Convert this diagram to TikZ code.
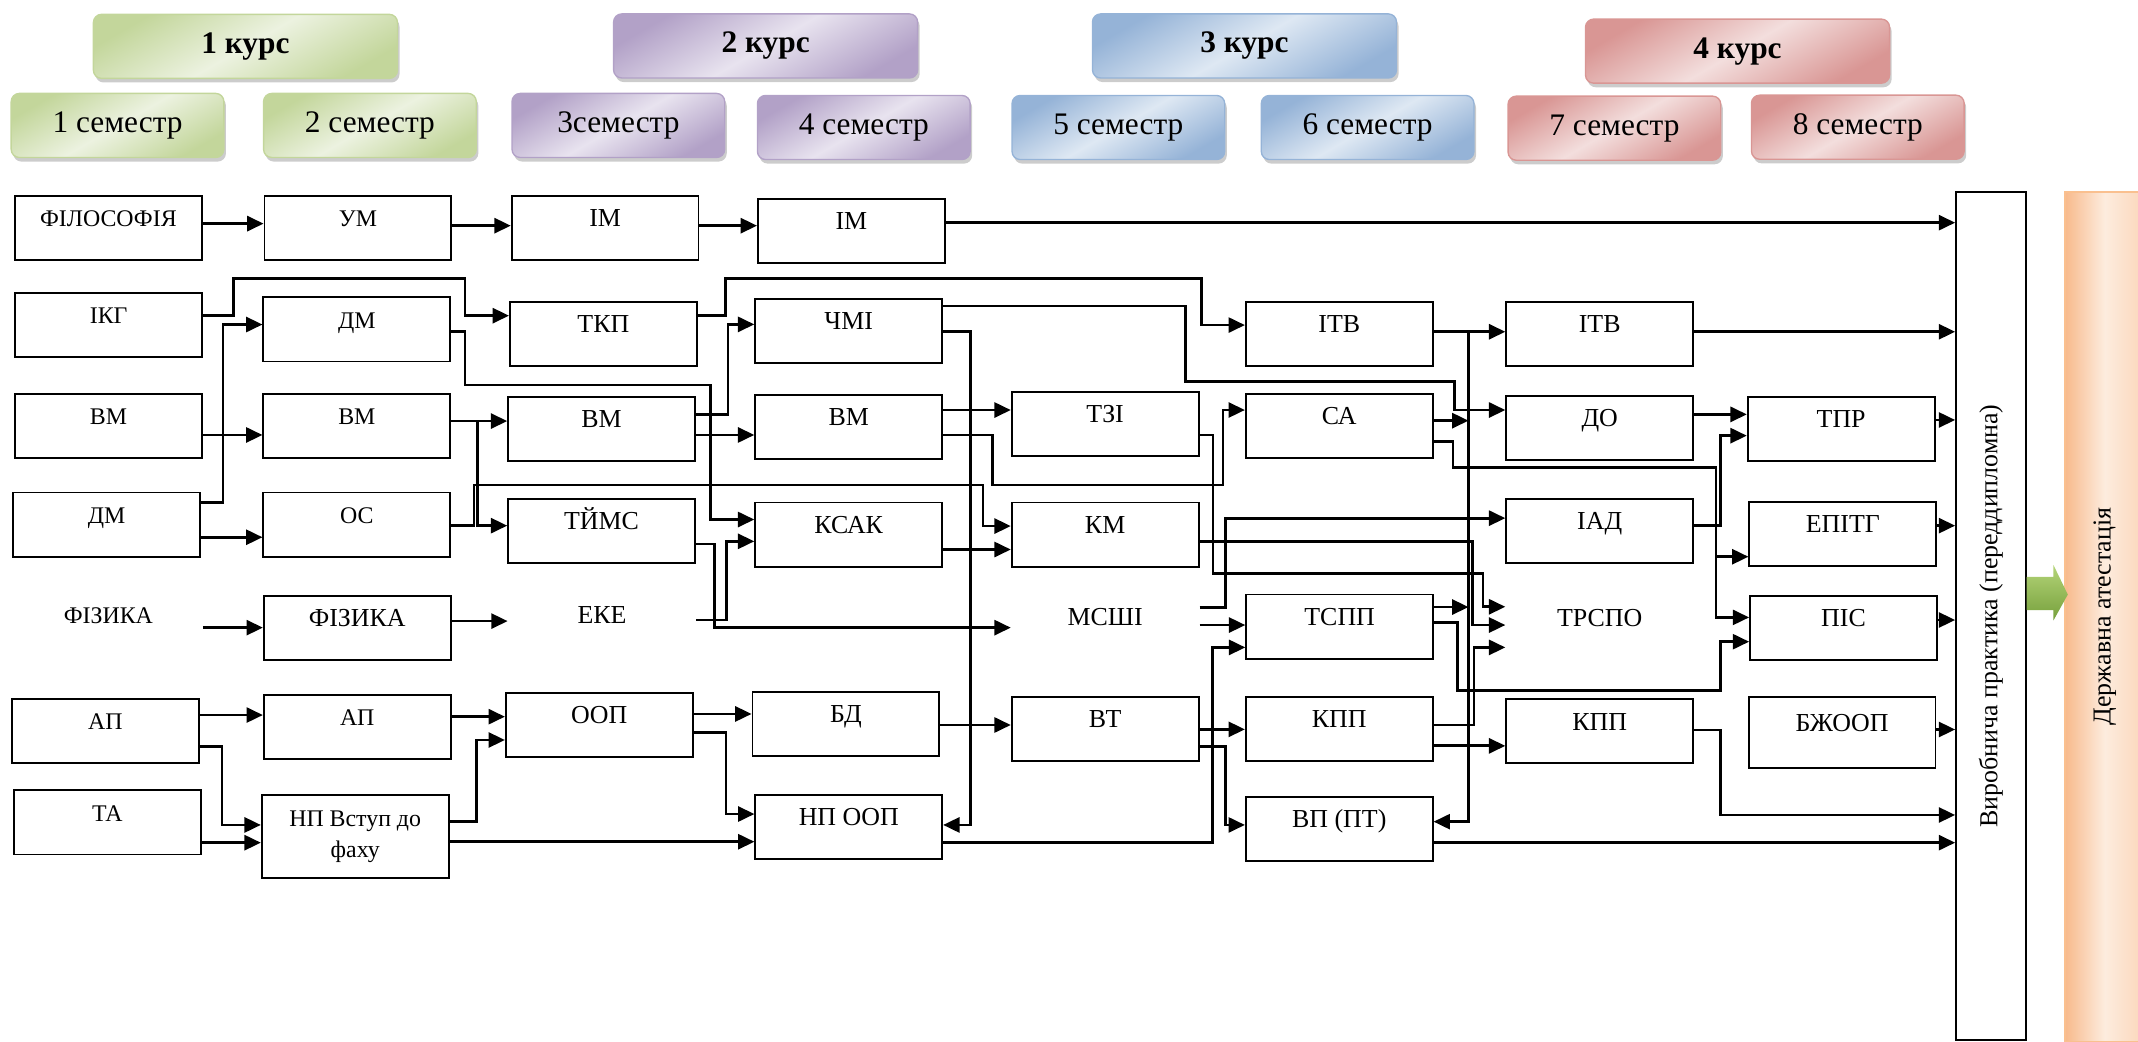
\documentclass[tikz,border=0pt]{standalone}
\usepackage{fontspec}
\setmainfont{Liberation Serif}
\usepackage{graphicx}
\usetikzlibrary{arrows.meta,shadows}

\definecolor{grnD}{RGB}{195,214,155}
\definecolor{grnL}{RGB}{236,242,224}
\definecolor{vioD}{RGB}{178,161,199}
\definecolor{vioL}{RGB}{232,227,239}
\definecolor{bluD}{RGB}{149,179,215}
\definecolor{bluL}{RGB}{222,232,243}
\definecolor{redD}{RGB}{217,150,148}
\definecolor{redL}{RGB}{243,222,221}
\definecolor{orgB}{RGB}{250,192,143}
\definecolor{orgD}{RGB}{248,186,140}
\definecolor{orgM}{RGB}{251,214,186}
\definecolor{orgL}{RGB}{253,236,222}
\definecolor{arrD}{RGB}{118,160,60}
\definecolor{arrL}{RGB}{180,212,120}

\begin{document}
\begin{tikzpicture}[x=1pt,y=-1pt,
    boxbase/.style={draw,line width=1.4pt,inner sep=0pt,
                    minimum width=137,minimum height=47},
    box/.style={boxbase,text height=13pt,text depth=15pt},
    bare/.style={box,draw=none},
    fa/.style={font=\fontsize{17.5}{20}\selectfont},
    fb/.style={font=\fontsize{19}{22}\selectfont},
    hdr/.style={draw=#1D,line width=1pt,rounded corners=6pt,
                top color=#1D,bottom color=#1D,middle color=#1L,shading angle=30,
                drop shadow={shadow xshift=1.5pt,shadow yshift=-3pt,fill=black!40},
                minimum height=47,inner sep=0pt,font=\fontsize{23}{26}\selectfont},
    kurs/.style={hdr=#1,minimum width=223,font=\fontsize{23}{26}\selectfont\bfseries},
    sem/.style={hdr=#1,minimum width=156},
    arr/.style={-{Triangle[length=12pt,width=11pt]},line width=2pt},
  ]
    \useasboundingbox (0,0) rectangle (1568,764);

    \node[kurs=grn] (k1) at (180,34) {1 курс};
    \node[sem=grn] (s1) at (86.2,92) {1 семестр};
    \node[sem=grn] (s2) at (271.3,92) {2 семестр};
    \node[kurs=vio] (k2) at (561.5,33.7) {2 курс};
    \node[sem=vio] (s3) at (453.5,92) {3семестр};
    \node[sem=vio] (s4) at (633.5,93.5) {4 семестр};
    \node[kurs=blu] (k3) at (912.7,33.7) {3 курс};
    \node[sem=blu] (s5) at (820.2,93.5) {5 семестр};
    \node[sem=blu] (s6) at (1003,93.5) {6 семестр};
    \node[kurs=red] (k4) at (1274.3,37.5) {4 курс};
    \node[sem=red] (s7) at (1184,94) {7 семестр};
    \node[sem=red] (s8) at (1362.5,93.3) {8 семестр};

    \node[box,fa] (fil) at (79.5,167.2) {ФІЛОСОФІЯ};
    \node[box,fa] (ikg) at (79.7,238.2) {ІКГ};
    \node[box,fa] (vm1) at (79.5,312.6) {ВМ};
    \node[box,fa] (dm1) at (78.2,384.7) {ДМ};
    \node[bare,fa] (fiz1) at (79.5,458) {ФІЗИКА};
    \node[box,fa] (ap1) at (77.3,536.2) {АП};
    \node[box,fa] (ta) at (78.7,603.2) {ТА};

    \node[box,fa] (um) at (262.5,167.2) {УМ};
    \node[box,fa] (dm2) at (261.7,241.6) {ДМ};
    \node[box,fa] (vm2) at (261.7,312.6) {ВМ};
    \node[box,fa] (os) at (261.7,384.7) {ОС};
    \node[box,fb] (fiz2) at (262,460.5) {ФІЗИКА};
    \node[box,fa] (ap2) at (262,533.2) {АП};
    \node[boxbase,align=center,minimum height=61,
          font=\fontsize{17.5}{23}\selectfont] (np1) at (260.5,613.5) {НП Вступ до\\фаху};

    \node[box,fb] (im3) at (443.8,167.4) {ІМ};
    \node[box,fb] (tkp) at (442.5,244.8) {ТКП};
    \node[box,fb] (vm3) at (441.2,314.5) {ВМ};
    \node[box,fb] (tims) at (441.2,389.4) {ТЙМС};
    \node[bare,fb] (eke) at (441.5,458) {ЕКЕ};
    \node[box,fb] (oop) at (439.5,531.5) {ООП};

    \node[box,fb] (im4) at (624.4,169.4) {ІМ};
    \node[box,fb] (chmi) at (622.4,242.9) {ЧМІ};
    \node[box,fb] (vm4) at (622.4,313) {ВМ};
    \node[box,fb] (ksak) at (622.4,392) {КСАК};
    \node[box,fb] (bd) at (620.4,530.8) {БД};
    \node[box,fb] (npoop) at (622.5,606.5) {НП ООП};

    \node[box,fb] (tzi) at (810.5,310.8) {ТЗІ};
    \node[box,fb] (km) at (810.5,392) {КМ};
    \node[bare,fb] (mssh) at (810.5,460) {МСШІ};
    \node[box,fb] (vt) at (810.5,534.8) {ВТ};

    \node[box,fb] (itv6) at (982.2,244.8) {ІТВ};
    \node[box,fb] (sa) at (982.2,312.6) {СА};
    \node[box,fb] (tspp) at (982.5,459.5) {ТСПП};
    \node[box,fb] (kpp6) at (982.2,534.8) {КПП};
    \node[box,fb] (vp) at (982.2,607.8) {ВП (ПТ)};

    \node[box,fb] (itv7) at (1173.2,244.8) {ІТВ};
    \node[box,fb] (do7) at (1173.2,313.9) {ДО};
    \node[box,fb] (iad) at (1173.2,389.4) {ІАД};
    \node[bare,fb] (trspo) at (1173.2,460.5) {ТРСПО};
    \node[box,fb] (kpp7) at (1173.2,536.4) {КПП};

    \node[box,fb] (tpr) at (1350.3,314.5) {ТПР};
    \node[box,fb] (epitg) at (1351.5,391.7) {ЕПІТГ};
    \node[box,fb] (pis) at (1352,460.5) {ПІС};
    \node[box,fb,minimum height=52] (bzhoop) at (1351,537.3) {БЖООП};

    \node[boxbase,fb,minimum width=51,minimum height=622] (prac) at (1460.1,451.7)
      {\rotatebox{90}{Виробнича практика (переддипломна)}};
    \node[draw=orgB,line width=1.2pt,left color=orgD,right color=orgM,middle color=orgL,
          minimum width=58,minimum height=623,inner sep=0pt,fb] (att) at (1543.6,452.3)
      {\rotatebox{90}{Державна атестація}};
    \shade[top color=arrL,bottom color=arrD] (prac.east |- 0,423) -- (1506,423) -- (1506,414.4)
      -- (1516.5,436) -- (1506,455) -- (1506,447.4) -- (prac.east |- 0,447.4) -- cycle;

    \draw[arr] (fil.east |- 0,164) -- (um.west |- 0,164);
    \draw[arr] (um.east |- 0,165.5) -- (im3.west |- 0,165.5);
    \draw[arr] (im3.east |- 0,165.5) -- (im4.west |- 0,165.5);
    \draw[arr] (im4.east |- 0,163.3) -- (prac.west |- 0,163.3);
    \draw[arr] (ikg.east |- 0,231.5) -| (171,204.4) -| (341,231.5) -- (tkp.west |- 0,231.5);
    \draw[arr] (dm2.east |- 0,243.3) -| (341,282.4) -| (521,381) -- (ksak.west |- 0,381);
    \draw[arr] (vm1.east |- 0,319) -- (vm2.west |- 0,319);
    \draw[arr] (dm1.east |- 0,368.7) -| (163.6,238) -- (dm2.west |- 0,238);
    \draw[arr] (dm1.east |- 0,394) -- (os.west |- 0,394);
    \draw[arr] (vm2.east |- 0,308.8) -- (vm3.west |- 0,308.8);
    \draw[arr] (vm2.east |- 0,308.8) -| (350.3,385.5) -- (tims.west |- 0,385.5);
    \draw[arr] (os.east |- 0,385.5) -| (347.7,355.7) -| (721,385.8) -- (km.west |- 0,385.8);
    \draw[arr] (fiz1.east |- 0,460.3) -- (fiz2.west |- 0,460.3);
    \draw[arr] (fiz2.east |- 0,455.5) -- (eke.west |- 0,455.5);
    \draw[arr] (ap1.east |- 0,524.4) -- (ap2.west |- 0,524.4);
    \draw[arr] (ap1.east |- 0,547.6) -| (162.8,605) -- (np1.west |- 0,605);
    \draw[arr] (ta.east |- 0,618) -- (np1.west |- 0,618);
    \draw[arr] (ap2.east |- 0,525.6) -- (oop.west |- 0,525.6);
    \draw[arr] (np1.east |- 0,602.6) -| (349.5,542.7) -- (oop.west |- 0,542.7);
    \draw[arr] (np1.east |- 0,617.3) -- (npoop.west |- 0,617.3);

    \draw[arr] (tkp.east |- 0,231.5) -| (532,204.4) -| (881,238.4) -- (itv6.west |- 0,238.4);
    \draw[arr] (vm3.east |- 0,303.9) -| (534,237.9) -- (chmi.west |- 0,237.9);
    \draw[arr] (vm3.east |- 0,319) -- (vm4.west |- 0,319);
    \draw[arr] (tims.east |- 0,399) -| (523.8,460.3) -- (mssh.west |- 0,460.3);
    \draw[arr] (eke.east |- 0,454.7) -| (532.6,397) -- (ksak.west |- 0,397);
    \draw[arr] (oop.east |- 0,523.6) -- (bd.west |- 0,523.6);
    \draw[arr] (oop.east |- 0,537) -| (532.5,597) -- (npoop.west |- 0,597);

    \draw[arr] (chmi.east |- 0,224.4) -| (869.5,280) -| (1066.5,300.7) -- (do7.west |- 0,300.7);
    \draw[arr] (chmi.east |- 0,243.3) -| (711.5,605) -- (npoop.east |- 0,605);
    \draw[arr] (vm4.east |- 0,300.7) -- (tzi.west |- 0,300.7);
    \draw[arr] (vm4.east |- 0,319) -| (728,355.7) -| (897,300.7) -- (sa.west |- 0,300.7);
    \draw[arr] (ksak.east |- 0,403) -- (km.west |- 0,403);
    \draw[arr] (bd.east |- 0,531.7) -- (vt.west |- 0,531.7);
    \draw[arr] (npoop.east |- 0,618) -| (889,474.8) -- (tspp.west |- 0,474.8);

    \draw[arr] (tzi.east |- 0,319) -| (889.5,420.4) -| (1087.6,445) -- (trspo.west |- 0,445);
    \draw[arr] (km.east |- 0,397) -| (1079.7,458.4) -- (trspo.west |- 0,458.4);
    \draw[arr] (mssh.east |- 0,445.4) -| (899,380) -- (iad.west |- 0,380);
    \draw[arr] (mssh.east |- 0,458.4) -- (tspp.west |- 0,458.4);
    \draw[arr] (vt.east |- 0,534.9) -- (kpp6.west |- 0,534.9);
    \draw[arr] (vt.east |- 0,547.6) -| (899,605) -- (vp.west |- 0,605);

    \coordinate (busA) at (1077,308.5);
    \coordinate (busB) at (1077,445.2);
    \draw[arr] (itv6.east |- 0,243.3) -- (itv7.west |- 0,243.3);
    \draw[arr] (itv6.east |- 0,243.3) -| (1077,602.6) -- (vp.east |- 0,602.6);
    \draw[arr] (sa.east |- busA) -- (busA);
    \draw[arr] (tspp.east |- busB) -- (busB);
    \draw[arr] (sa.east |- 0,323.9) -| (1065.7,342.7) -| (1258.5,452.8) -- (pis.west |- 0,452.8);
    \draw[arr] (sa.east |- 0,323.9) -| (1065.7,342.7) -| (1258.5,408.3) -- (epitg.west |- 0,408.3);
    \draw[arr] (tspp.east |- 0,456.4) -| (1069,506.5) -| (1261.6,470.6) -- (pis.west |- 0,470.6);
    \draw[arr] (kpp6.east |- 0,531.7) -| (1081,474.8) -- (trspo.west |- 0,474.8);
    \draw[arr] (kpp6.east |- 0,547) -- (kpp7.west |- 0,547);
    \draw[arr] (vp.east |- 0,618) -- (prac.west |- 0,618);

    \draw[arr] (itv7.east |- 0,243.3) -- (prac.west |- 0,243.3);
    \draw[arr] (do7.east |- 0,303.9) -- (tpr.west |- 0,303.9);
    \draw[arr] (iad.east |- 0,385.5) -| (1261.6,319.5) -- (tpr.west |- 0,319.5);
    \draw[arr] (kpp7.east |- 0,535.4) -| (1261.6,597.7) -- (prac.west |- 0,597.7);
    \draw[arr] (tpr.east |- 0,308) -- (prac.west |- 0,308);
    \draw[arr] (epitg.east |- 0,385.5) -- (prac.west |- 0,385.5);
    \draw[arr] (pis.east |- 0,454.7) -- (prac.west |- 0,454.7);
    \draw[arr] (bzhoop.east |- 0,535) -- (prac.west |- 0,535);
  \end{tikzpicture}
\end{document}
